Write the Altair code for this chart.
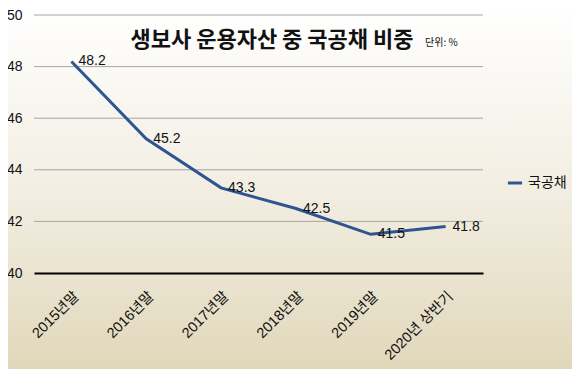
import altair as alt
import pandas as pd

categories = ["2015년말", "2016년말", "2017년말", "2018년말", "2019년말", "2020년 상반기"]
values = [48.2, 45.2, 43.3, 42.5, 41.5, 41.8]
series_name = "국공채"
grid_values = [42, 44, 46, 48, 50]
y_ticks = [40, 42, 44, 46, 48, 50]
title_text = "생보사 운용자산 중 국공채 비중"
unit_text = "단위: %"

W, H = 449, 258
PL, PT, PR, PB = 26, 7, 89, 96
FONT = "Liberation Sans, Noto Sans CJK KR, sans-serif"
KFONT = "Noto Sans CJK KR, sans-serif"

df = pd.DataFrame({"cat": categories, "val": values, "series": [series_name] * len(values)})

xenc = alt.X("cat:N", sort=categories, title=None,
             axis=alt.Axis(labelAngle=-45, labelFontSize=14.5, labelFont=FONT, labelColor="#111",
                           ticks=False, domain=True, domainColor="#000", domainWidth=2,
                           labelPadding=16, grid=False, zindex=1))
yenc = alt.Y("val:Q", title=None,
             scale=alt.Scale(domain=[40, 50], nice=False, zero=False),
             axis=alt.Axis(values=y_ticks, labelFontSize=14, labelFont=FONT, labelColor="#111",
                           ticks=False, domain=False, grid=False, labelPadding=12, zindex=1))

grad = alt.Gradient(gradient="linear", x1=0, x2=0, y1=0, y2=1,
                    stops=[alt.GradientStop(color="#ffffff", offset=0),
                           alt.GradientStop(color="#f2eee2", offset=0.5),
                           alt.GradientStop(color="#e1d8bb", offset=1)])

bg = alt.Chart(pd.DataFrame({"a": [0]})).mark_rect(fill=grad).encode(
    x=alt.value(-PL), x2=alt.value(W + PR), y=alt.value(-PT), y2=alt.value(H + PB))

grid = alt.Chart(pd.DataFrame({"val": grid_values})).mark_rule(color="#a6a6a6", strokeWidth=1).encode(
    y=alt.Y("val:Q", scale=alt.Scale(domain=[40, 50], nice=False, zero=False)),
    x=alt.value(0), x2=alt.value(W))

base = alt.Chart(df)
line = base.mark_line(strokeWidth=3).encode(
    x=xenc, y=yenc,
    color=alt.Color("series:N", scale=alt.Scale(range=["#2e5592"]),
                    legend=alt.Legend(title=None, orient="none", legendX=472, legendY=159,
                                      symbolType="stroke", symbolStrokeWidth=3, symbolSize=200,
                                      labelFontSize=14, labelFont=KFONT, labelColor="#111",
                                      zindex=1)))
labels = base.mark_text(align="left", baseline="middle", dx=7, fontSize=14, font=FONT, color="#111").encode(
    x=xenc, y=yenc, text=alt.Text("val:Q", format=".1f"))

title = alt.Chart(pd.DataFrame({"t": [title_text]})).mark_text(
    align="center", baseline="middle", fontSize=22, fontWeight="bold", font=KFONT, color="#111").encode(
    x=alt.value(238), y=alt.value(25), text="t:N")

unit = alt.Chart(pd.DataFrame({"t": [unit_text]})).mark_text(
    align="left", baseline="middle", fontSize=10, font=KFONT, color="#111").encode(
    x=alt.value(391), y=alt.value(28), text="t:N")

chart = alt.layer(bg, grid, line, labels, title, unit).properties(
    width=W, height=H,
    autosize=alt.AutoSizeParams(type="none"),
    padding={"left": PL, "top": PT, "right": PR, "bottom": PB},
).configure_view(stroke=None)

chart.save("out.html", embed_options={"renderer": "svg", "actions": False})
